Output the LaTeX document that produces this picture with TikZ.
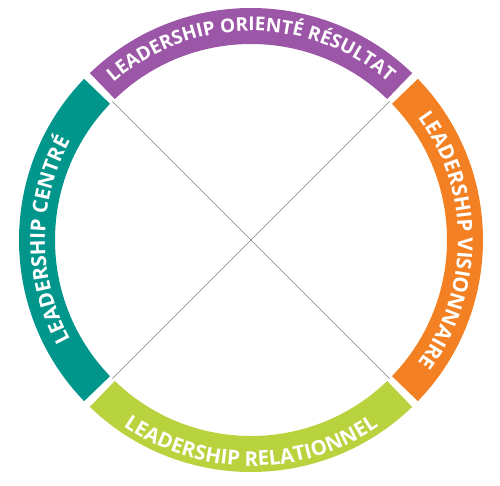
\documentclass[tikz,border=0pt]{standalone}
\usepackage{fontspec}
\newfontfamily\ringfont{Open Sans}
\usetikzlibrary{decorations.text}

\definecolor{ringpurple}{RGB}{156,86,167}
\definecolor{ringorange}{RGB}{243,129,36}
\definecolor{ringlime}{RGB}{184,211,62}
\definecolor{ringteal}{RGB}{0,150,140}

\tikzset{
  ringlabel/.style 2 args={decorate, decoration={text along path, text align=center,
    text color=white, text={|\ringfont\bfseries\fontsize{#1}{#1}\selectfont|#2}}}
}

\begin{document}
\begin{tikzpicture}[x=1pt, y=1pt]

    \useasboundingbox (0,0) rectangle (500,485);
    \coordinate (c) at (251,245);

    % Ring segments
    \fill[ringpurple] ([shift={(46:232)}]c) arc[start angle=46, end angle=134, radius=232]
        -- ([shift={(134:196)}]c) arc[start angle=134, end angle=46, radius=196] -- cycle;
    \fill[ringorange] ([shift={(-44:232)}]c) arc[start angle=-44, end angle=44, radius=232]
        -- ([shift={(44:196)}]c) arc[start angle=44, end angle=-44, radius=196] -- cycle;
    \fill[ringlime] ([shift={(226:232)}]c) arc[start angle=226, end angle=314, radius=232]
        -- ([shift={(314:196)}]c) arc[start angle=314, end angle=226, radius=196] -- cycle;
    \fill[ringteal] ([shift={(136:232)}]c) arc[start angle=136, end angle=224, radius=232]
        -- ([shift={(224:196)}]c) arc[start angle=224, end angle=136, radius=196] -- cycle;

    % Diagonals
    \coordinate (nw) at ([shift={(135:196)}]c);
    \coordinate (ne) at ([shift={(45:196)}]c);
    \coordinate (sw) at ([shift={(225:196)}]c);
    \coordinate (se) at ([shift={(-45:196)}]c);
    \draw[gray, line width=0.7pt] (nw) -- (se);
    \draw[gray, line width=0.7pt] (ne) -- (sw);

    % Labels along the ring
    \path[ringlabel={19}{LEADERSHIP ORIENTÉ RÉSULTAT}]
        ([shift={(136:209)}]c) arc[start angle=136, end angle=44, radius=209];
    \path[ringlabel={20.5}{LEADERSHIP VISIONNAIRE}]
        ([shift={(44:207)}]c) arc[start angle=44, end angle=-44, radius=207];
    \path[ringlabel={20.5}{LEADERSHIP RELATIONNEL}]
        ([shift={(224:226)}]c) arc[start angle=224, end angle=316, radius=226];
    \path[ringlabel={20.5}{LEADERSHIP CENTRÉ}]
        ([shift={(224:206)}]c) arc[start angle=224, end angle=136, radius=206];

\end{tikzpicture}
\end{document}
